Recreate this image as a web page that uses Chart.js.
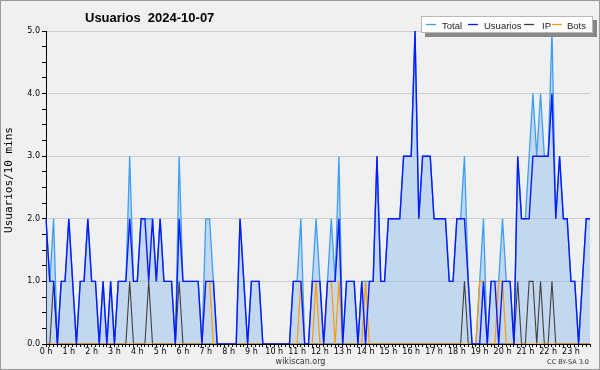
<!DOCTYPE html>
<html>
<head>
<meta charset="utf-8">
<script src="https://cdn.jsdelivr.net/npm/chart.js@4.4.1/dist/chart.umd.min.js"></script>
<style>
html,body{margin:0;padding:0;background:#f0f0f0;}
#wrap{width:600px;height:370px;position:relative;}
</style>
</head>
<body>
<div id="wrap"><canvas id="c" width="600" height="370"></canvas></div>
<script>
// 10-minute slots, 0h00 .. 23h50
const hourLabels = ['0 h','1 h','2 h','3 h','4 h','5 h','6 h','7 h','8 h','9 h','10 h','11 h',
  '12 h','13 h','14 h','15 h','16 h','17 h','18 h','19 h','20 h','21 h','22 h','23 h'];
const yTickLabels = ['0.0','1.0','2.0','3.0','4.0','5.0'];

const total = [
  2,1,2,0,1,1,2,1,0,1,
  1,2,1,1,0,1,0,1,0,1,
  1,1,3,1,1,2,2,2,2,1,
  2,1,1,1,0,3,1,1,1,1,
  1,0,2,2,1,0,0,0,0,0,
  0,2,1,0,1,1,1,0,0,0,
  0,0,0,0,0,1,1,2,0,0,
  1,2,1,0,1,2,1,3,0,1,
  1,1,0,1,1,1,1,3,1,1,
  2,2,2,2,3,3,3,5,2,3,
  3,3,2,2,2,2,1,1,2,2,
  3,1,0,0,1,2,0,1,1,1,
  2,1,1,0,3,2,2,3,4,3,
  4,3,3,5,2,3,2,2,1,1,
  0,1,2,2
];
const usuarios = [
  2,1,1,0,1,1,2,1,0,1,
  1,2,1,1,0,1,0,1,0,1,
  1,1,2,1,1,2,2,1,2,1,
  2,1,1,1,0,2,1,1,1,1,
  1,0,1,1,1,0,0,0,0,0,
  0,2,1,0,1,1,1,0,0,0,
  0,0,0,0,0,1,1,1,0,0,
  1,1,1,0,1,1,1,2,0,1,
  1,1,0,1,0,1,1,3,1,1,
  2,2,2,2,3,3,3,5,2,3,
  3,3,2,2,2,2,1,1,2,2,
  2,1,0,0,0,1,0,1,1,0,
  1,1,1,0,3,2,2,2,3,3,
  3,3,3,4,2,3,2,2,1,1,
  0,1,2,2
];
const ip = [
  0,0,1,0,0,0,0,0,0,0,
  0,0,0,0,0,0,0,0,0,0,
  0,0,1,0,0,0,0,1,0,0,
  0,0,0,0,0,1,0,0,0,0,
  0,0,0,0,0,0,0,0,0,0,
  0,0,0,0,0,0,0,0,0,0,
  0,0,0,0,0,0,0,0,0,0,
  0,0,0,0,0,0,0,0,0,0,
  0,0,0,0,0,0,0,0,0,0,
  0,0,0,0,0,0,0,0,0,0,
  0,0,0,0,0,0,0,0,0,0,
  1,0,0,0,0,0,0,0,0,0,
  0,0,0,0,1,0,0,1,1,0,
  1,0,0,1,0,0,0,0,0,0,
  0,0,0,0
];
const bots = [
  0,0,0,0,0,0,0,0,0,0,
  0,0,0,0,0,0,0,0,0,0,
  0,0,0,0,0,0,0,0,0,0,
  0,0,0,0,0,0,0,0,0,0,
  0,0,1,1,0,0,0,0,0,0,
  0,0,0,0,0,0,0,0,0,0,
  0,0,0,0,0,0,0,1,0,0,
  0,1,0,0,1,1,0,1,0,0,
  0,0,0,0,1,0,0,0,0,0,
  0,0,0,0,0,0,0,0,0,0,
  0,0,0,0,0,0,0,0,0,0,
  0,0,0,0,1,1,0,0,0,1,
  1,0,0,0,0,0,0,0,0,0,
  0,0,0,0,0,0,0,0,0,0,
  0,0,0,0
];

const seriesNames = ['Total','Usuarios','IP','Bots'];
const seriesColors = ['#3d9ef2','#0a1aff','#404040','#ff9a00'];
const slots = usuarios.map((_, i) => i);

const decor = {
  id: 'decor',
  beforeDraw(chart) {
    const ctx = chart.ctx, a = chart.chartArea;
    ctx.save();
    ctx.fillStyle = '#f0f0f0';
    ctx.fillRect(0, 0, chart.width, chart.height);
    ctx.fillStyle = '#eef0f2';
    ctx.fillRect(a.left, a.top, a.right - a.left, a.bottom - a.top);
    ctx.strokeStyle = '#9a9a9a';
    ctx.lineWidth = 1;
    ctx.strokeRect(0.5, 0.5, chart.width - 1, chart.height - 1);
    ctx.restore();
  },
  afterDraw(chart) {
    const ctx = chart.ctx;
    ctx.save();
    // title
    ctx.fillStyle = '#000';
    ctx.font = 'bold 13px "Liberation Sans", Arial, sans-serif';
    ctx.textBaseline = 'alphabetic';
    ctx.textAlign = 'left';
    ctx.fillText('Usuarios  2024-10-07', 85, 22);
    // y axis title
    ctx.save();
    ctx.translate(9, 180);
    ctx.rotate(-Math.PI / 2);
    ctx.font = '11px "DejaVu Sans Mono", monospace';
    ctx.textAlign = 'center';
    ctx.textBaseline = 'middle';
    ctx.fillText('Usuarios/10 mins', 0, 0);
    ctx.restore();
    // legend
    ctx.fillStyle = '#888888';
    ctx.fillRect(425, 20, 172, 17);
    ctx.fillStyle = '#ffffff';
    ctx.fillRect(421, 16, 172, 17);
    ctx.strokeStyle = '#b8b8b8';
    ctx.strokeRect(421.5, 16.5, 171, 16);
    const lx = [426, 468, 524, 552];
    const tx = [442, 484, 542, 567];
    ctx.font = '9.5px "Liberation Sans", Arial, sans-serif';
    ctx.textBaseline = 'alphabetic';
    for (let k = 0; k < 4; k++) {
      ctx.strokeStyle = seriesColors[k];
      ctx.lineWidth = 1.3;
      ctx.beginPath();
      ctx.moveTo(lx[k], 24.5);
      ctx.lineTo(lx[k] + 10, 24.5);
      ctx.stroke();
      ctx.fillStyle = '#222';
      ctx.fillText(seriesNames[k], tx[k], 28.5);
    }
    // footer
    ctx.fillStyle = '#333';
    ctx.font = '8px "DejaVu Sans", sans-serif';
    ctx.textAlign = 'center';
    ctx.fillText('wikiscan.org', 300.5, 364);
    ctx.font = '6.5px "DejaVu Sans", sans-serif';
    ctx.textAlign = 'right';
    ctx.fillText('CC BY-SA 3.0', 589, 364);
    ctx.restore();
  }
};

const lineDs = (k, data, extra) => Object.assign({
  label: seriesNames[k],
  data: data,
  borderColor: seriesColors[k],
  borderWidth: 1.3,
  pointRadius: 0,
  pointHoverRadius: 0,
  tension: 0,
  fill: false
}, extra || {});

new Chart(document.getElementById('c'), {
  type: 'line',
  data: {
    labels: slots,
    datasets: [
      lineDs(0, total, { order: 4, fill: 'origin', backgroundColor: 'rgba(120,175,230,0.36)' }),
      lineDs(1, usuarios, { order: 1, borderWidth: 1.4 }),
      lineDs(2, ip, { order: 3, borderWidth: 1.1 }),
      lineDs(3, bots, { order: 2, borderWidth: 1.2 })
    ]
  },
  options: {
    responsive: false,
    animation: false,
    events: [],
    layout: { padding: { left: 0, right: 10, top: 31, bottom: 0 } },
    plugins: { legend: { display: false }, title: { display: false }, tooltip: { enabled: false } },
    scales: {
      x: {
        type: 'category',
        offset: false,
        grid: { display: true, drawOnChartArea: false, drawTicks: true, tickLength: 3, tickColor: '#000' },
        border: { display: true, color: '#000', width: 1 },
        ticks: {
          autoSkip: false, maxRotation: 0, minRotation: 0, padding: 0,
          color: '#000', font: { family: 'DejaVu Sans', size: 8 },
          callback: (v, i) => (i % 6 === 0 ? hourLabels[i / 6] : '')
        },
        afterFit: s => { s.height = 26; }
      },
      y: {
        min: 0, max: 5,
        grid: {
          color: c => (c.tick && Number.isInteger(c.tick.value)) ? '#cdcdcd' : 'rgba(0,0,0,0)',
          tickColor: '#000', tickLength: 4, drawTicks: true
        },
        border: { display: true, color: '#000', width: 1 },
        ticks: {
          stepSize: 0.25, autoSkip: false, padding: 2,
          color: '#000', font: { family: 'DejaVu Sans', size: 8 },
          callback: v => (Number.isInteger(v) ? yTickLabels[v] : '')
        },
        afterFit: s => { s.width = 46; }
      }
    }
  },
  plugins: [decor]
});
</script>
</body>
</html>
